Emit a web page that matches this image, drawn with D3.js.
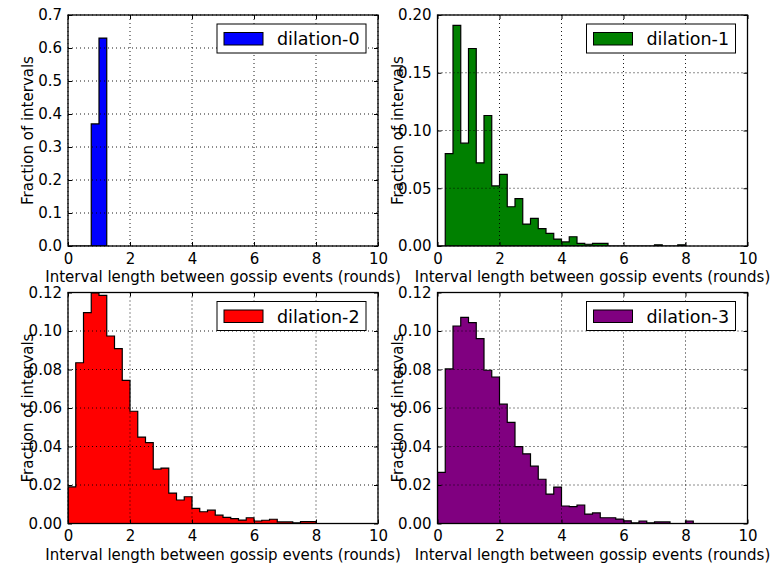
<!DOCTYPE html>
<html>
<head>
<meta charset="utf-8">
<script src="https://cdnjs.cloudflare.com/ajax/libs/d3/7.8.5/d3.min.js"></script>
<style>
  body { margin: 0; background: #fff; }
  text { font-family: "DejaVu Sans", sans-serif; }
</style>
</head>
<body>
<svg id="chart" width="772" height="564"></svg>
<script>
// histogram bins are 0.25 rounds wide, starting at 0
const binWidth = 0.25;
const labels = ["dilation-0", "dilation-1", "dilation-2", "dilation-3"];
const colors = ["#0000ff", "#008000", "#ff0000", "#800080"];

const dilation0 = [0, 0, 0, 0.37, 0.63];
const dilation1 = [0, 0.080, 0.191, 0.089, 0.171, 0.072, 0.113, 0.052,
  0.062, 0.034, 0.041, 0.019, 0.024, 0.015, 0.011, 0.006,
  0.0035, 0.008, 0.0023, 0.0015, 0.0023, 0.0023, 0, 0,
  0, 0, 0, 0, 0.001, 0, 0, 0.001];
const dilation2 = [0.019, 0.0835, 0.1095, 0.1198, 0.1185, 0.0974, 0.0908, 0.0744,
  0.0583, 0.0449, 0.042, 0.0282, 0.0288, 0.0158, 0.0122, 0.0139,
  0.0079, 0.0061, 0.0069, 0.0043, 0.0032, 0.0025, 0.0018, 0.003,
  0.0013, 0.0017, 0.0022, 0.0008, 0.0008, 0.0003, 0.001, 0.001];
const dilation3 = [0.0266, 0.0803, 0.1026, 0.1071, 0.1043, 0.096, 0.0796, 0.0761,
  0.062, 0.0525, 0.0399, 0.0362, 0.0298, 0.023, 0.0153, 0.0189,
  0.0091, 0.0088, 0.0096, 0.0049, 0.0055, 0.003, 0.003, 0.0023,
  0.0014, 0.0003, 0.0013, 0.0003, 0.0008, 0.0008, 0, 0, 0.0013];

const xTicks = [0, 2, 4, 6, 8, 10];
const yTicks0 = [0, 0.1, 0.2, 0.3, 0.4, 0.5, 0.6, 0.7];
const yTicks1 = [0, 0.05, 0.10, 0.15, 0.20];
const yTicks23 = [0, 0.02, 0.04, 0.06, 0.08, 0.10, 0.12];

const xLabel = "Interval length between gossip events (rounds)";
const yLabel = "Fraction of intervals";

const panels = [
  {values: dilation0, ticks: yTicks0, fmt: ".1f", left: 68, top: 15},
  {values: dilation1, ticks: yTicks1, fmt: ".2f", left: 437.5, top: 15},
  {values: dilation2, ticks: yTicks23, fmt: ".2f", left: 68, top: 292.5},
  {values: dilation3, ticks: yTicks23, fmt: ".2f", left: 437.5, top: 292.5}
];

const width = 310, height = 231;
const svg = d3.select("#chart");

panels.forEach((p, k) => {
  const g = svg.append("g").attr("transform", `translate(${p.left},${p.top})`);

  const xScale = d3.scaleLinear().domain([0, 10]).range([0, width]);
  const yScale = d3.scaleLinear().domain([0, d3.max(p.ticks)]).range([height, 0]);

  g.append("clipPath").attr("id", "clip" + k)
    .append("rect").attr("width", width).attr("height", height);

  // step outline of the histogram
  let pts = [[0, 0]];
  p.values.forEach((v, i) => {
    pts.push([i * binWidth, v]);
    pts.push([(i + 1) * binWidth, v]);
  });
  pts.push([p.values.length * binWidth, 0]);

  const line = d3.line().x(d => xScale(d[0])).y(d => yScale(d[1]));
  g.append("path")
    .attr("d", line(pts) + "Z")
    .attr("fill", colors[k])
    .attr("stroke", "#000")
    .attr("stroke-width", 1.2)
    .attr("clip-path", `url(#clip${k})`);

  // dotted grid
  g.selectAll(".vgrid").data(xTicks).enter().append("line")
    .attr("x1", d => xScale(d)).attr("x2", d => xScale(d))
    .attr("y1", 0).attr("y2", height)
    .attr("stroke", "#000").attr("stroke-width", 0.9).attr("stroke-dasharray", "1,3");
  g.selectAll(".hgrid").data(p.ticks).enter().append("line")
    .attr("x1", 0).attr("x2", width)
    .attr("y1", d => yScale(d)).attr("y2", d => yScale(d))
    .attr("stroke", "#000").attr("stroke-width", 0.9).attr("stroke-dasharray", "1,3");

  // axes with inward ticks on all sides
  g.append("g").attr("transform", `translate(0,${height})`)
    .call(d3.axisBottom(xScale).tickValues(xTicks).tickFormat(d3.format("d"))
      .tickSizeInner(-4).tickSizeOuter(0).tickPadding(7));
  g.append("g")
    .call(d3.axisLeft(yScale).tickValues(p.ticks).tickFormat(d3.format(p.fmt))
      .tickSizeInner(-4).tickSizeOuter(0).tickPadding(6));
  g.append("g")
    .call(d3.axisTop(xScale).tickValues(xTicks).tickFormat("").tickSizeInner(-4).tickSizeOuter(0));
  g.append("g").attr("transform", `translate(${width},0)`)
    .call(d3.axisRight(yScale).tickValues(p.ticks).tickFormat("").tickSizeInner(-4).tickSizeOuter(0));

  g.selectAll(".domain").remove();
  g.selectAll(".tick line").attr("stroke", "#000").attr("stroke-width", 1);
  g.selectAll(".tick text").attr("fill", "#000").style("font-size", "15px")
    .style("font-family", "'DejaVu Sans', sans-serif");

  g.append("rect")
    .attr("width", width).attr("height", height)
    .attr("fill", "none").attr("stroke", "#000").attr("stroke-width", 1.3);

  // axis labels
  g.append("text")
    .attr("x", width / 2).attr("y", height + 36)
    .attr("text-anchor", "middle")
    .style("font-size", "15px")
    .text(xLabel);
  g.append("text")
    .attr("transform", `translate(-35,${height / 2}) rotate(-90)`)
    .attr("text-anchor", "middle")
    .style("font-size", "15px")
    .text(yLabel);

  // legend
  const legend = g.append("g").attr("transform", `translate(${width - 12 - 149},9)`);
  legend.append("rect")
    .attr("width", 149).attr("height", 29)
    .attr("fill", "#fff").attr("stroke", "#000").attr("stroke-width", 1);
  legend.append("rect")
    .attr("x", 7).attr("y", 8.5).attr("width", 39).attr("height", 12.5)
    .attr("fill", colors[k]).attr("stroke", "#000").attr("stroke-width", 1);
  legend.append("text")
    .attr("x", 60).attr("y", 21)
    .style("font-size", "17.5px")
    .text(labels[k]);
});
</script>
</body>
</html>
